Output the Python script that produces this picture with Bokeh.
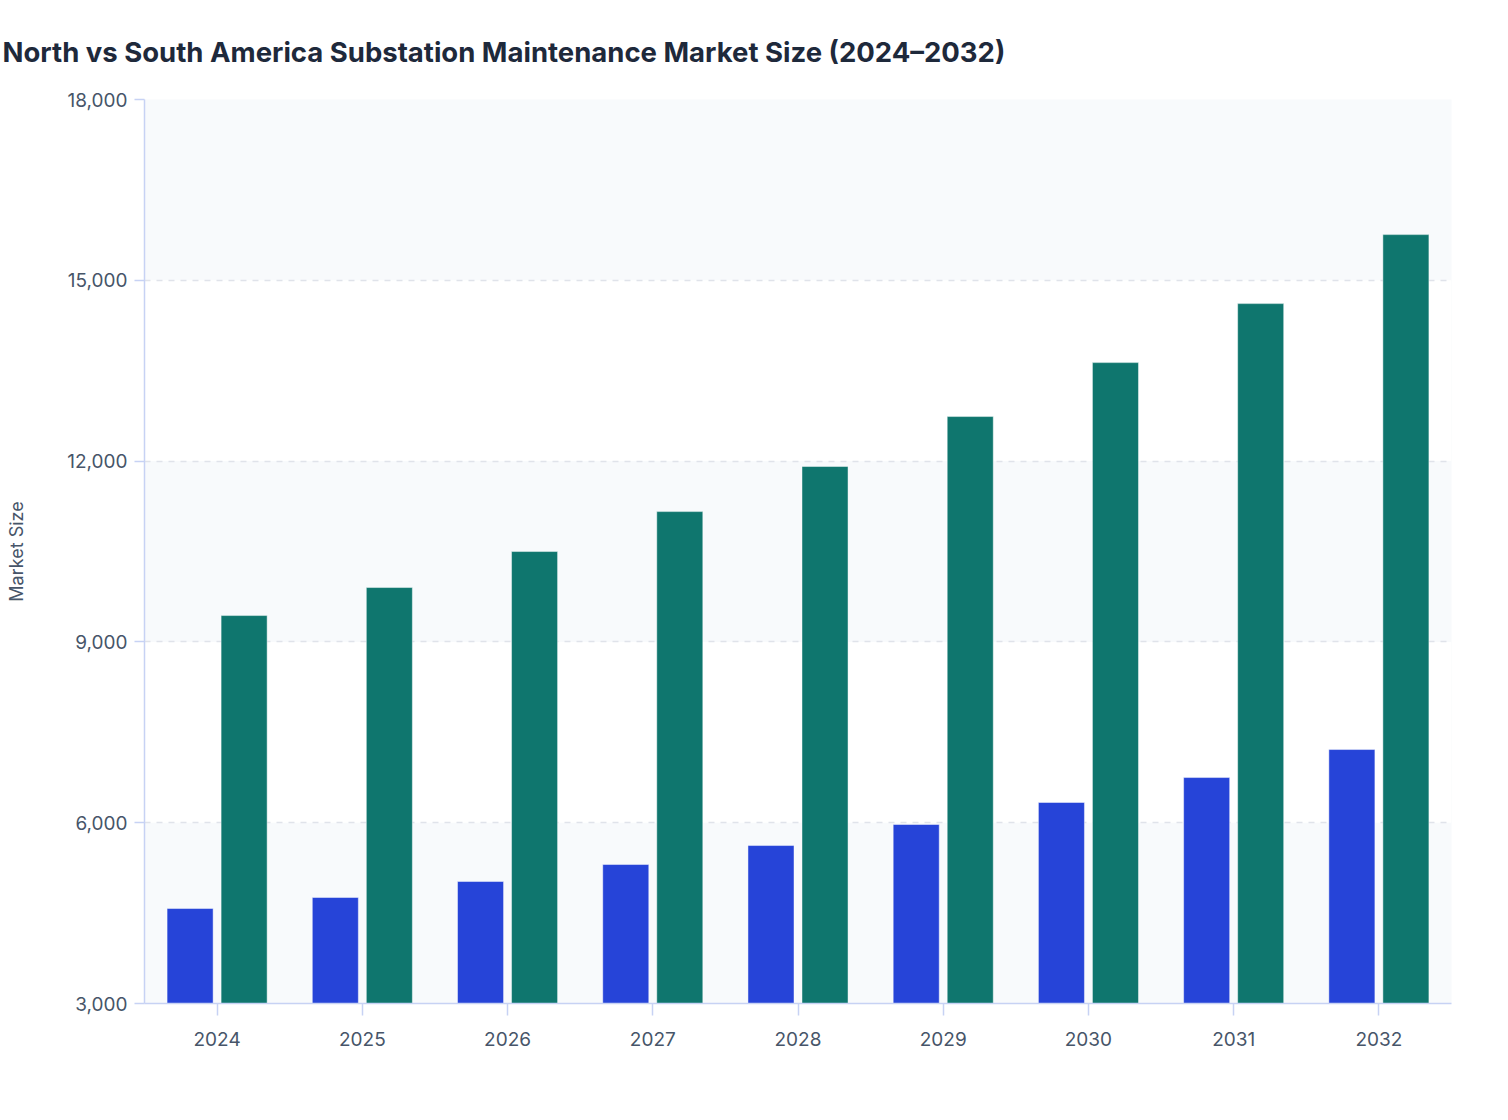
from bokeh.plotting import figure
from bokeh.models import Range1d, FactorRange, NumeralTickFormatter, FixedTicker, ColumnDataSource
from bokeh.transform import dodge
from bokeh.embed import file_html
from bokeh.resources import INLINE

years = ["2024", "2025", "2026", "2027", "2028", "2029", "2030", "2031", "2032"]
south_america = [4576, 4759, 5024, 5306, 5621, 5970, 6335, 6749, 7214]
north_america = [9437, 9902, 10499, 11162, 11910, 12739, 13634, 14613, 15758]
y_ticks = [3000, 6000, 9000, 12000, 15000, 18000]

src = ColumnDataSource(dict(year=years, south=south_america, north=north_america))

FONT = "Inter"
TXT = "#475569"
AXIS = "#c7d2f4"

p = figure(
    x_range=FactorRange(*years, range_padding=0.0),
    y_range=Range1d(3000, 18000),
    width=1490, height=1100,
    output_backend="svg", toolbar_location=None,
    title="North vs South America Substation Maintenance Market Size (2024\u20132032)",
    min_border_left=144, min_border_right=39, min_border_top=99, min_border_bottom=97,
)
p.x_range.range_padding = 0
p.background_fill_color = "#f8fafc"
p.border_fill_color = "white"
p.outline_line_color = None

p.title.text_font = FONT
p.title.text_font_size = "27.5px"
p.title.text_font_style = "bold"
p.title.text_color = "#1e293b"
p.title.align = "left"
p.title.offset = -142
p.title.standoff = 62

p.vbar(x=dodge("year", -0.186, range=p.x_range), top="south", width=0.317, bottom=0,
       source=src, fill_color="#2644d8", line_color="white", line_alpha=0.45, line_width=1)
p.vbar(x=dodge("year", 0.186, range=p.x_range), top="north", width=0.317, bottom=0,
       source=src, fill_color="#0f766e", line_color="white", line_alpha=0.45, line_width=1)

p.xgrid.grid_line_color = None
p.ygrid.grid_line_color = "#e0e3ea"
p.ygrid.grid_line_dash = "6 6"
p.ygrid.grid_line_width = 1.5
p.ygrid.band_fill_color = "white"
p.ygrid.band_fill_alpha = 1.0
p.ygrid.ticker = FixedTicker(ticks=y_ticks)

p.yaxis.ticker = FixedTicker(ticks=y_ticks)
p.yaxis.formatter = NumeralTickFormatter(format="0,0")
p.yaxis.axis_label = "Market Size"
p.yaxis.axis_label_text_font = FONT
p.yaxis.axis_label_text_font_size = "18px"
p.yaxis.axis_label_text_font_style = "normal"
p.yaxis.axis_label_text_color = TXT
p.yaxis.axis_label_standoff = 37

for ax in (p.xaxis[0], p.yaxis[0]):
    ax.axis_line_color = AXIS
    ax.axis_line_width = 1.5
    ax.major_tick_line_color = AXIS
    ax.major_tick_line_width = 1.5
    ax.major_tick_in = 0
    ax.major_tick_out = 10
    ax.minor_tick_line_color = None
    ax.major_label_text_font = FONT
    ax.major_label_text_font_size = "19px"
    ax.major_label_text_color = TXT
p.yaxis.major_label_standoff = 7
p.xaxis.major_tick_out = 12
p.xaxis.major_label_standoff = 16

open("out.html", "w").write(file_html(p, INLINE))
